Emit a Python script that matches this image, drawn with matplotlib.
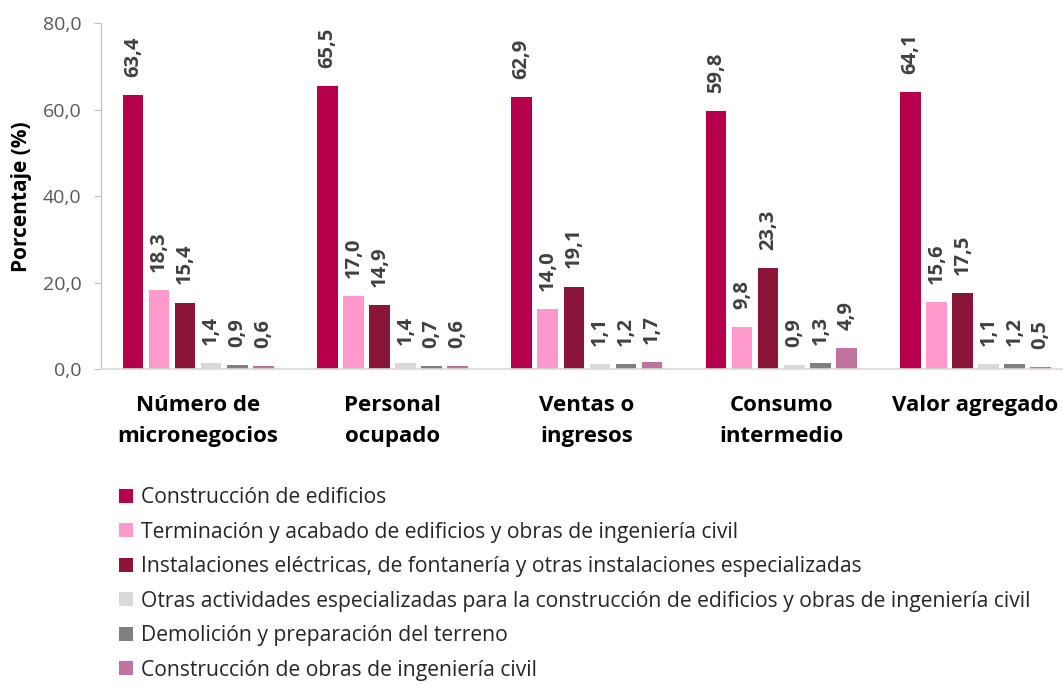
import numpy as np
import matplotlib.pyplot as plt
from matplotlib.patches import Patch

plt.rcParams['font.family'] = ['Open Sans', 'DejaVu Sans']

# Categories (x axis groups)
categorias = ['Número de\nmicronegocios', 'Personal\nocupado', 'Ventas o\ningresos',
              'Consumo\nintermedio', 'Valor agregado']

# Series (one per activity)
series = [
    'Construcción de edificios',
    'Terminación y acabado de edificios y obras de ingeniería civil',
    'Instalaciones eléctricas, de fontanería y otras instalaciones especializadas',
    'Otras actividades especializadas para la construcción de edificios y obras de ingeniería civil',
    'Demolición y preparación del terreno',
    'Construcción de obras de ingeniería civil',
]
edificios = [63.4, 65.5, 62.9, 59.8, 64.1]
terminacion = [18.3, 17.0, 14.0, 9.8, 15.6]
instalaciones = [15.4, 14.9, 19.1, 23.3, 17.5]
otras = [1.4, 1.4, 1.1, 0.9, 1.1]
demolicion = [0.9, 0.7, 1.2, 1.3, 1.2]
obras_civiles = [0.6, 0.6, 1.7, 4.9, 0.5]
valores = [edificios, terminacion, instalaciones, otras, demolicion, obras_civiles]

colores = ['#B7004B', '#FF99CC', '#8B1538', '#D9D9D9', '#808080', '#C0739C']

fig = plt.figure(figsize=(10.63, 6.86), dpi=100)
ax = fig.add_axes([0.095, 0.462, 0.905, 0.504])

x = np.arange(len(categorias))
ancho = 0.106
paso = 0.134
for i, (vals, col) in enumerate(zip(valores, colores)):
    pos = x + (i - 2.5) * paso
    ax.bar(pos, vals, width=ancho, color=col)
    for p, v in zip(pos, vals):
        ax.annotate(f'{v:.1f}'.replace('.', ','), (p, v), xytext=(0, 13),
                    textcoords='offset points', rotation=90, ha='center', va='bottom',
                    fontsize=14.5, fontweight='bold', color='#404040')

ax.set_ylim(0, 80)
ax.set_xlim(-0.5, 4.45)
ax.set_yticks([0, 20, 40, 60, 80])
ax.set_yticklabels(['0,0', '20,0', '40,0', '60,0', '80,0'], fontsize=14, color='#595959')
ax.set_xticks(x)
ax.set_xticklabels(categorias, fontsize=16, fontweight='bold', color='#000000',
                   linespacing=1.6)
ax.tick_params(axis='x', length=0, pad=19)
ax.tick_params(axis='y', length=5, color='#BFBFBF', pad=9)
ax.set_ylabel('Porcentaje (%)', fontsize=15, fontweight='bold', labelpad=8)
for s in ['top', 'right']:
    ax.spines[s].set_visible(False)
ax.spines['left'].set_color('#BFBFBF')
ax.spines['bottom'].set_color('#D9D9D9')
ax.spines['bottom'].set_linewidth(1.2)

handles = [Patch(facecolor=c, edgecolor='none') for c in colores]
fig.legend(handles, series, loc='upper left', bbox_to_anchor=(0.112, 0.29),
           frameon=False, fontsize=15.2, handlelength=0.65, handleheight=0.65,
           handletextpad=0.4, labelspacing=0.64, borderpad=0, borderaxespad=0,
           labelcolor='#262626')

fig.savefig('out.png', dpi=100)
